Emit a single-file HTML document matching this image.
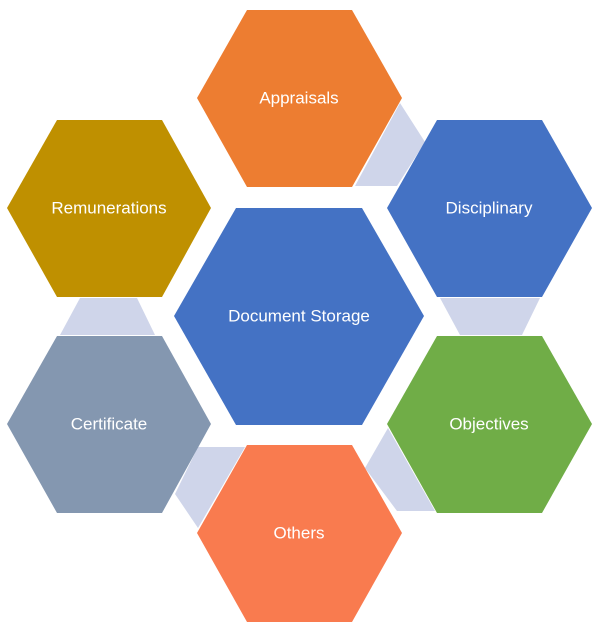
<!DOCTYPE html>
<html><head><style>
html,body{margin:0;padding:0;background:#fff;}
svg{display:block;}
text{font-family:"Liberation Sans",sans-serif;font-size:17px;fill:#fff;text-anchor:middle;dominant-baseline:middle;}
</style></head><body>
<svg width="600" height="628" viewBox="0 0 600 628" xmlns="http://www.w3.org/2000/svg">
<g fill="#CFD5EA">
<polygon points="400,103 425,142 397,186 355,186"/>
<polygon points="440,298 540,298 522,335 460,335"/>
<polygon points="388,428 435,511 397,511 365,468"/>
<polygon points="198,447 245,447 198,528 175,494"/>
<polygon points="80,298 137,298 155,335 60,335"/>
</g>
<polygon fill="#ED7D31" points="247,10 352,10 402,98 352,187 247,187 197,98"/>
<polygon fill="#BF9000" points="57,120 162,120 211,208 162,297 57,297 7,208"/>
<polygon fill="#4472C4" points="437,120 542,120 592,208 542,297 437,297 387,208"/>
<polygon fill="#4472C4" points="236,208 362,208 424,316 362,425 236,425 174,316"/>
<polygon fill="#8497B0" points="57,336 162,336 211,424 162,513 57,513 7,424"/>
<polygon fill="#70AD47" points="437,336 542,336 592,424 542,513 437,513 387,424"/>
<polygon fill="#F97B4F" points="247,445 352,445 402,533 352,622 247,622 197,533"/>
<text x="299" y="99">Appraisals</text>
<text x="109" y="209">Remunerations</text>
<text x="489" y="209">Disciplinary</text>
<text x="299" y="317">Document Storage</text>
<text x="109" y="425">Certificate</text>
<text x="489" y="425">Objectives</text>
<text x="299" y="534">Others</text>
</svg>
</body></html>
